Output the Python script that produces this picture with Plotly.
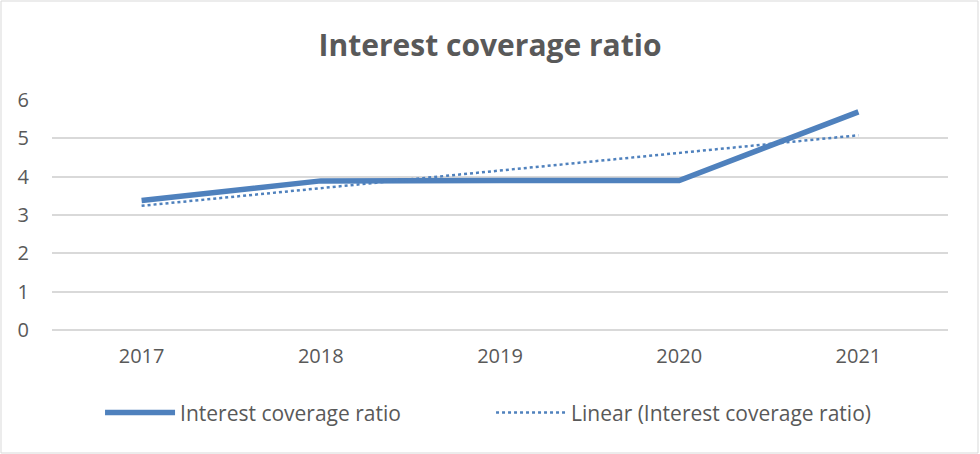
import plotly.graph_objects as go

years = ["2017", "2018", "2019", "2020", "2021"]
ratio = [3.38, 3.89, 3.90, 3.90, 5.69]
trend = [3.24, 3.70, 4.16, 4.62, 5.08]
y_ticks = [0, 1, 2, 3, 4, 5, 6]

blue = "#4F81BD"
gray_text = "#595959"
font_family = "'Open Sans', sans-serif"

fig = go.Figure()
fig.add_trace(go.Scatter(
    x=years, y=ratio, mode="lines", name="Interest coverage ratio",
    line=dict(color=blue, width=5.5),
))
fig.add_trace(go.Scatter(
    x=years, y=trend, mode="lines", name="Linear (Interest coverage ratio)",
    line=dict(color=blue, width=2.5, dash="dot"),
))

fig.update_layout(
    width=980, height=454,
    margin=dict(l=52, r=32, t=100, b=124),
    paper_bgcolor="white", plot_bgcolor="white",
    font=dict(family=font_family, color=gray_text, size=20),
    title=dict(text="<b>Interest coverage ratio</b>", x=0.5, xanchor="center",
               y=1 - 45 / 454, yanchor="middle",
               font=dict(size=30, color=gray_text, family=font_family)),
    xaxis=dict(showgrid=False, showline=False, zeroline=False,
               ticks="", tickfont=dict(size=20, color=gray_text),
               ticklabelstandoff=12, range=[-0.5, 4.5]),
    yaxis=dict(range=[0, 6], tickvals=y_ticks, showgrid=True,
               gridcolor="#D9D9D9", gridwidth=1.5, zeroline=True,
               zerolinecolor="#D9D9D9", zerolinewidth=1.5,
               showline=False, ticks="", ticklabelstandoff=22,
               tickfont=dict(size=20, color=gray_text)),
    legend=dict(orientation="h", x=0.49, xanchor="center", y=-0.36, yanchor="middle",
                font=dict(size=21, color=gray_text), itemwidth=70,
                entrywidth=306, entrywidthmode="pixels", tracegroupgap=0),
    showlegend=True,
    shapes=[dict(type="rect", xref="paper", yref="paper",
                 x0=(1 - 52) / 896, x1=(978 - 52) / 896,
                 y0=-(453 - 330) / 230, y1=(330 - 1) / 230,
                 line=dict(color="#D9D9D9", width=1), fillcolor="rgba(0,0,0,0)",
                 layer="below")],
)

fig.write_html("out.html")
